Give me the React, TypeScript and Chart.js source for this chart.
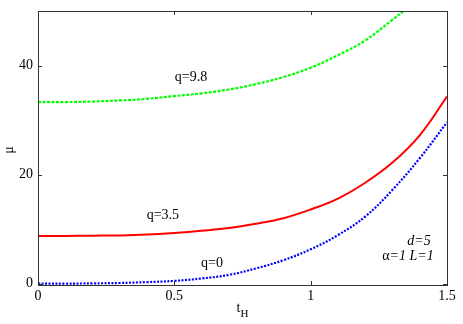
import React, { useEffect, useRef } from "react";
import { Chart, registerables } from "chart.js";

Chart.register(...registerables);

const tValues = [0, 0.1, 0.2, 0.3, 0.4, 0.5, 0.6, 0.7, 0.8, 0.9, 1.0, 1.1, 1.2, 1.3, 1.4, 1.5];
const muQ0 = [0, 0.0, 0.05, 0.12, 0.28, 0.5, 0.95, 1.6, 2.8, 4.3, 6.3, 8.9, 12.3, 17.2, 23.0, 29.6];
const muQ35 = [8.75, 8.75, 8.8, 8.85, 9.0, 9.3, 9.7, 10.2, 11.0, 12.0, 13.6, 15.6, 18.5, 22.2, 27.2, 34.3];
const tGreen = [0, 0.1, 0.2, 0.3, 0.4, 0.5, 0.6, 0.7, 0.8, 0.9, 1.0, 1.1, 1.2, 1.3, 1.35, 1.4];
const muQ98 = [33.3, 33.3, 33.4, 33.6, 33.9, 34.4, 34.9, 35.6, 36.6, 37.9, 39.6, 41.9, 44.6, 48.4, 50.4, 52.8];
const xTicks = [0, 0.5, 1, 1.5];
const yTicks = [0, 20, 40];

const SERIF = "'Liberation Serif', 'DejaVu Serif', serif";

const framePlugin = {
  id: "frame",
  afterDraw(chart: any) {
    const { ctx, chartArea: a, scales } = chart;
    const x = scales.x;
    const y = scales.y;
    ctx.save();
    ctx.strokeStyle = "#333";
    ctx.lineWidth = 1;
    ctx.strokeRect(Math.round(a.left) + 0.5, Math.round(a.top) + 0.5, Math.round(a.right - a.left), Math.round(a.bottom - a.top));
    ctx.beginPath();
    const L = 4;
    xTicks.forEach((v) => {
      const px = Math.round(x.getPixelForValue(v)) + 0.5;
      ctx.moveTo(px, a.bottom);
      ctx.lineTo(px, a.bottom - L);
      ctx.moveTo(px, a.top);
      ctx.lineTo(px, a.top + L);
    });
    yTicks.forEach((v) => {
      const py = Math.round(y.getPixelForValue(v)) + 0.5;
      ctx.moveTo(a.left, py);
      ctx.lineTo(a.left + L, py);
      ctx.moveTo(a.right, py);
      ctx.lineTo(a.right - L, py);
    });
    ctx.stroke();

    ctx.fillStyle = "#000";
    ctx.font = `14px ${SERIF}`;
    // tick labels
    ctx.textAlign = "center";
    ctx.textBaseline = "middle";
    xTicks.forEach((v) => {
      ctx.fillText(String(v), x.getPixelForValue(v), 296);
    });
    ctx.textAlign = "right";
    yTicks.forEach((v) => {
      ctx.fillText(String(v), a.left - 5, y.getPixelForValue(v));
    });

    ctx.textAlign = "center";
    const put = (text: string, t: number, m: number) => {
      ctx.fillText(text, x.getPixelForValue(t), y.getPixelForValue(m));
    };
    put("q=9.8", 0.561, 37.9);
    put("q=3.5", 0.458, 12.6);
    put("q=0", 0.638, 3.8);

    ctx.font = `italic 14px ${SERIF}`;
    put("d=5", 1.397, 7.8);

    const cx = x.getPixelForValue(1.357);
    const cy = y.getPixelForValue(5.05);
    ctx.font = `14px ${SERIF}`;
    const wA = ctx.measureText("α").width;
    ctx.font = `italic 14px ${SERIF}`;
    const rest = "=1 L=1";
    const wR = ctx.measureText(rest).width;
    const start = cx - (wA + wR) / 2;
    ctx.textAlign = "left";
    ctx.font = `14px ${SERIF}`;
    ctx.fillText("α", start, cy);
    ctx.font = `italic 14px ${SERIF}`;
    ctx.fillText(rest, start + wA, cy);

    ctx.font = `14px ${SERIF}`;
    ctx.textBaseline = "alphabetic";
    const tw = ctx.measureText("t").width;
    ctx.font = `11px ${SERIF}`;
    const hw = ctx.measureText("H").width;
    const tx = (a.left + a.right) / 2 - (tw + hw) / 2;
    ctx.font = `14px ${SERIF}`;
    ctx.fillText("t", tx, 312);
    ctx.font = `11px ${SERIF}`;
    ctx.fillText("H", tx + tw, 317);

    ctx.translate(9, 150);
    ctx.rotate(-Math.PI / 2);
    ctx.textAlign = "center";
    ctx.textBaseline = "middle";
    ctx.font = `14px ${SERIF}`;
    ctx.fillText("μ", 0, 0);
    ctx.restore();
  },
};

export default function App() {
  const ref = useRef<HTMLCanvasElement | null>(null);
  useEffect(() => {
    document.body.style.margin = "0";
    const canvas = ref.current;
    if (!canvas) return;
    const chart = new Chart(canvas, {
      type: "line",
      data: {
        datasets: [
          {
            label: "q=9.8",
            data: tGreen.map((t, i) => ({ x: t, y: muQ98[i] })),
            borderColor: "#00ff00",
            borderWidth: 2.2,
            borderDash: [3, 1.5],
            pointRadius: 0,
            tension: 0.4,
            fill: false,
          },
          {
            label: "q=3.5",
            data: tValues.map((t, i) => ({ x: t, y: muQ35[i] })),
            borderColor: "#ff0000",
            borderWidth: 2,
            pointRadius: 0,
            tension: 0.4,
            fill: false,
          },
          {
            label: "q=0",
            data: tValues.map((t, i) => ({ x: t, y: muQ0[i] })),
            borderColor: "#0000ff",
            borderWidth: 2.2,
            borderDash: [2, 1.5],
            pointRadius: 0,
            tension: 0.4,
            fill: false,
          },
        ],
      },
      options: {
        animation: false,
        responsive: false,
        maintainAspectRatio: false,
        layout: { padding: { top: 11, right: 16, left: 0, bottom: 0 } },
        plugins: { legend: { display: false }, tooltip: { enabled: false } },
        scales: {
          x: {
            type: "linear",
            min: 0,
            max: 1.5,
            grid: { display: false },
            border: { display: false },
            afterFit: (s: any) => {
              s.height = 39;
            },
            ticks: { display: false },
          },
          y: {
            type: "linear",
            min: -0.25,
            max: 50,
            grid: { display: false },
            border: { display: false },
            afterFit: (s: any) => {
              s.width = 38;
            },
            ticks: { display: false },
          },
        },
      },
      plugins: [framePlugin],
    });
    return () => chart.destroy();
  }, []);
  return (
    <div style={{ width: 463, height: 324 }}>
      <canvas ref={ref} width={463} height={324} style={{ display: "block" }} />
    </div>
  );
}
